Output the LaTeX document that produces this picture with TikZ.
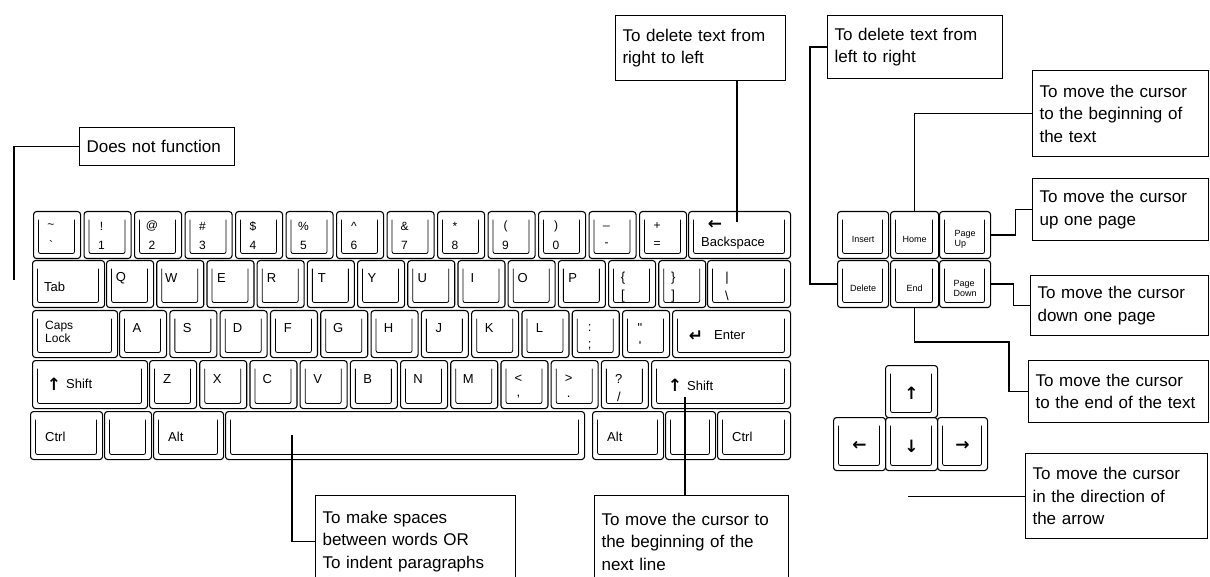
\documentclass[tikz,border=0pt]{standalone}
\usepackage{fontspec}
\setmainfont{Liberation Sans}
\newfontfamily\arrfont{DejaVu Sans}

\begin{document}
\begin{tikzpicture}[x=1pt,y=-1pt,
  key/.style={draw,line width=1.1pt,rounded corners=3pt,inner sep=0pt,anchor=north west,minimum height=47pt,
    path picture={\draw[line width=.8pt,rounded corners=2pt]
      ([shift={(5pt,-8pt)}]path picture bounding box.north west) |-
      ([shift={(-6pt,5pt)}]path picture bounding box.south east) --
      ([shift={(-6pt,-8pt)}]path picture bounding box.north east);}},
  klab/.style={inner sep=0pt,font=\fontsize{13}{13}\selectfont},
  arrlab/.style={inner sep=0pt,font=\arrfont\bfseries\fontsize{17}{17}\selectfont},
  navlab/.style={inner sep=0pt,align=left,font=\fontsize{9}{10}\selectfont},
  note/.style={draw,line width=1.1pt,anchor=north west,align=left,inner xsep=7pt,inner ysep=0pt,
    font=\fontsize{17}{22.5}\selectfont},
  link/.style={line width=1.1pt}]
\useasboundingbox (0,0) rectangle (1210,577);
\clip (0,0) rectangle (1210,577);

% Number row
\foreach \t/\b [count=\i from 0] in {\textasciitilde/\textasciigrave,!/1,@/2,\#/3,\$/4,\%/5,\textasciicircum/6,\&/7,*/8,{(}/9,{)}/0,\_/-,+/=}{
  \node[key,minimum width=47pt] (r1k\i) at ({33+50.5*\i},211) {};
  \node[klab,font=\fontsize{12}{12}\selectfont] (r1t\i) at ({51+50.5*\i},226) {\t};
  \node[klab,font=\fontsize{12}{12}\selectfont] (r1b\i) at ({51+50.5*\i},245) {\b};
}
\node[key,minimum width=102pt] (bksp) at (688,211) {};
\node[arrlab] (bksparr) at (715,225) {←};
\node[klab,anchor=west] (bksptxt) at (701,243) {Backspace};

% Top letter row
\node[key,minimum width=72pt] (tab) at (32,260) {};
\node[klab,anchor=west] (tabtxt) at (44,287) {Tab};
\foreach \t/\b [count=\i from 0] in {Q/{},W/{},E/{},R/{},T/{},Y/{},U/{},I/{},O/{},P/{},\{/[,\}/]}{
  \node[key,minimum width=47pt] (r2k\i) at ({106+50.2*\i},260) {};
  \node[klab] (r2t\i) at ({121+50.2*\i},278) {\t};
  \node[klab] (r2b\i) at ({121+50.2*\i},296) {\b};
}
\node[key,minimum width=83pt] (bslash) at (707,260) {};
\node[klab] (bslasht) at (727,278) {|};
\node[klab] (bslashb) at (727,296) {\textbackslash};

% Home row
\node[key,minimum width=85pt] (caps) at (32,310) {};
\node[klab,anchor=west,align=left,font=\fontsize{12}{13}\selectfont] (capstxt) at (45,332) {Caps\\Lock};
\foreach \t/\b [count=\i from 0] in {A/{},S/{},D/{},F/{},G/{},H/{},J/{},K/{},L/{},:/;,\textquotedbl/\textquotesingle}{
  \node[key,minimum width=47pt] (r3k\i) at ({119+50.3*\i},310) {};
  \node[klab] (r3t\i) at ({137+50.3*\i},328) {\t};
  \node[klab] (r3b\i) at ({137+50.3*\i},346) {\b};
}
\node[key,minimum width=118pt] (enter) at (672,310) {};
\node[arrlab] (enterarr) at (696,336) {↵};
\node[klab,anchor=west] (entertxt) at (714,335) {Enter};

% Bottom letter row
\node[key,minimum width=115pt,minimum height=48pt] (lshift) at (32,360) {};
\node[arrlab] (lshiftarr) at (54,384) {↑};
\node[klab,anchor=west] (lshifttxt) at (66,384) {Shift};
\foreach \t/\b [count=\i from 0] in {Z/{},X/{},C/{},V/{},B/{},N/{},M/{},\textless/{,},\textgreater/.,?/\slash}{
  \node[key,minimum width=47pt,minimum height=48pt] (r4k\i) at ({149+50.2*\i},360) {};
  \node[klab] (r4t\i) at ({167+50.2*\i},379) {\t};
  \node[klab] (r4b\i) at ({167+50.2*\i},397) {\b};
}
\node[key,minimum width=139pt,minimum height=48pt] (rshift) at (651,360) {};
\node[arrlab] (rshiftarr) at (675,385) {↑};
\node[klab,anchor=west] (rshifttxt) at (687,386) {Shift};

% Space row
\foreach \xa/\w/\t/\nm in {30/72/Ctrl/lctrl,104/47/{}/lblank,153/70/Alt/lalt,225/359/{}/space,592/71/Alt/ralt,665/50/{}/rblank,717/73/Ctrl/rctrl}{
  \node[key,minimum width=\w pt,minimum height=48pt] (\nm) at (\xa,411) {};
  \node[klab,anchor=west] (\nm t) at (\xa+15,437) {\t};
}

% Editing keys
\foreach \xa/\w/\ya/\t/\nm in {837/51/211/Insert/ins,890/48/211/Home/home,939/51/211/{Page\\Up}/pgup,
  837/51/260/Delete/del,890/48/260/End/endk,939/51/260/{Page\\Down}/pgdn}{
  \node[key,minimum width=\w pt] (\nm) at (\xa,\ya) {};
  \node[navlab] (\nm t) at ([yshift=-4pt]\nm.center) {\t};
}

% Arrow keys
\node[key,minimum width=52pt,minimum height=52pt] (up) at (885,365) {};
\node[key,minimum width=52pt,minimum height=53pt] (left) at (833,417) {};
\node[key,minimum width=52pt,minimum height=53pt] (down) at (885,417) {};
\node[key,minimum width=50pt,minimum height=53pt] (right) at (937,417) {};
\node[arrlab] (upt) at ([yshift=-2pt]up.center) {↑};
\node[arrlab] (leftt) at ([yshift=-2pt]left.center) {←};
\node[arrlab] (downt) at ([yshift=-2pt]down.center) {↓};
\node[arrlab] (rightt) at ([yshift=-2pt]right.center) {→};

% Notes
\node[note,minimum width=155pt,text width=141pt,minimum height=38pt] (dnf) at (79,127) {Does not function};
\node[note,minimum width=170pt,text width=156pt,minimum height=65pt] (rl) at (615,15) {To delete text from\\right to left};
\node[note,minimum width=175pt,text width=161pt,minimum height=63pt] (lr) at (827,15) {To delete text from\\left to right};
\node[note,minimum width=176pt,text width=162pt,minimum height=86pt] (homenote) at (1032,70) {To move the cursor\\to the beginning of\\the text};
\node[note,minimum width=176pt,text width=162pt,minimum height=62pt] (upnote) at (1032,178) {To move the cursor\\up one page};
\node[note,minimum width=178pt,text width=164pt,minimum height=60pt] (dnnote) at (1030,275) {To move the cursor\\down one page};
\node[note,minimum width=180pt,text width=166pt,minimum height=62pt] (endnote) at (1028,360) {To move the cursor\\to the end of the text};
\node[note,minimum width=182pt,text width=168pt,minimum height=85pt] (arrnote) at (1025,453) {To move the cursor\\in the direction of\\the arrow};
\node[note,minimum width=200pt,text width=186pt,minimum height=92pt] (spnote) at (315,495) {To make spaces\\between words OR\\To indent paragraphs};
\node[note,minimum width=194pt,text width=180pt,minimum height=92pt] (nlnote) at (594,495) {To move the cursor to\\the beginning of the\\next line};

% Leaders
\coordinate (dnfend) at (14,280);
\coordinate (bspt) at (737,222);
\coordinate (endbend) at (1009,342);
\coordinate (arrpt) at (908,497);
\coordinate (spcpt) at (292,435);
\coordinate (shpt) at (685,397);
\draw[link] (dnf.west) -| (dnfend);
\draw[link] (bspt |- rl.south) -- (bspt);
\draw[link] (lr.west) -- ++(-17,0) |- (del.west);
\draw[link] (home.north) |- (homenote.west);
\draw[link] (pgup.east) -- ++(24,0) |- (upnote.west);
\draw[link] (pgdn.east) -- ++(22,0) |- (dnnote.west);
\draw[link] (endk.south) |- (endbend) |- (endnote.west);
\draw[link] (arrnote.west) -- (arrnote.west -| arrpt);
\draw[link] (spcpt) |- (spnote.west);
\draw[link] (shpt) -- (shpt |- nlnote.north);

\end{tikzpicture}
\end{document}
